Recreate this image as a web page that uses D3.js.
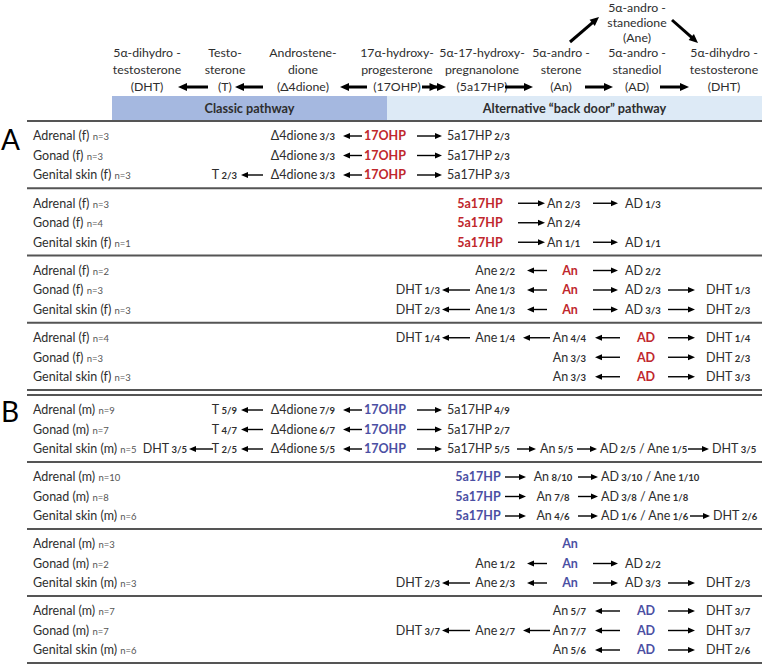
<!DOCTYPE html>
<html><head><meta charset="utf-8">
<script src="https://cdn.jsdelivr.net/npm/d3@7"></script>
<style>
body{margin:0;background:#fff}
svg{display:block}
text{font-family:Lato,"Open Sans",sans-serif}
</style>
</head><body>
<svg id="chart" width="762" height="665"></svg>
<script>
// ---------------- DATA ----------------
const headerCompounds = [
  ["5α-dihydro -", "testosterone", "(DHT)"],
  ["Testo-", "sterone", "(T)"],
  ["Androstene-", "dione", "(Δ4dione)"],
  ["17α-hydroxy-", "progesterone", "(17OHP)"],
  ["5α-17-hydroxy-", "pregnanolone", "(5a17HP)"],
  ["5α-andro -", "sterone", "(An)"],
  ["5α-andro -", "stanediol", "(AD)"],
  ["5α-dihydro -", "testosterone", "(DHT)"],
  ["5α-andro -", "stanedione", "(Ane)"]
];
const pathwayNames = ["Classic pathway", "Alternative \u201Cback door\u201D pathway"];
const panelLetters = ["A", "B"];
const panelSex = ["f", "m"];
const tissues = ["Adrenal", "Gonad", "Genital skin"];
const substrates = ["17OHP", "5a17HP", "An", "AD"];
const sampleSizes = [
  [3, 3, 3], [3, 4, 1], [2, 3, 3], [4, 3, 3],
  [9, 7, 5], [10, 8, 6], [3, 2, 3], [7, 7, 6]
];
// products per block, per tissue row: [step from substrate, name, fraction, (name2, fraction2)]
const products = [
  [ [[-1,"Δ4dione","3/3"],[1,"5a17HP","2/3"]],
    [[-1,"Δ4dione","3/3"],[1,"5a17HP","2/3"]],
    [[-2,"T","2/3"],[-1,"Δ4dione","3/3"],[1,"5a17HP","3/3"]] ],
  [ [[1,"An","2/3"],[2,"AD","1/3"]],
    [[1,"An","2/4"]],
    [[1,"An","1/1"],[2,"AD","1/1"]] ],
  [ [[-1,"Ane","2/2"],[1,"AD","2/2"]],
    [[-2,"DHT","1/3"],[-1,"Ane","1/3"],[1,"AD","2/3"],[2,"DHT","1/3"]],
    [[-2,"DHT","2/3"],[-1,"Ane","1/3"],[1,"AD","3/3"],[2,"DHT","2/3"]] ],
  [ [[-3,"DHT","1/4"],[-2,"Ane","1/4"],[-1,"An","4/4"],[1,"DHT","1/4"]],
    [[-1,"An","3/3"],[1,"DHT","2/3"]],
    [[-1,"An","3/3"],[1,"DHT","3/3"]] ],
  [ [[-2,"T","5/9"],[-1,"Δ4dione","7/9"],[1,"5a17HP","4/9"]],
    [[-2,"T","4/7"],[-1,"Δ4dione","6/7"],[1,"5a17HP","2/7"]],
    [[-3,"DHT","3/5"],[-2,"T","2/5"],[-1,"Δ4dione","5/5"],[1,"5a17HP","5/5"],[2,"An","5/5"],[3,"AD","2/5","Ane","1/5"],[4,"DHT","3/5"]] ],
  [ [[1,"An","8/10"],[2,"AD","3/10","Ane","1/10"]],
    [[1,"An","7/8"],[2,"AD","3/8","Ane","1/8"]],
    [[1,"An","4/6"],[2,"AD","1/6","Ane","1/6"],[3,"DHT","2/6"]] ],
  [ [],
    [[-1,"Ane","1/2"],[1,"AD","2/2"]],
    [[-2,"DHT","2/3"],[-1,"Ane","2/3"],[1,"AD","3/3"],[2,"DHT","2/3"]] ],
  [ [[-1,"An","5/7"],[1,"DHT","3/7"]],
    [[-3,"DHT","3/7"],[-2,"Ane","2/7"],[-1,"An","7/7"],[1,"DHT","3/7"]],
    [[-1,"An","5/6"],[1,"DHT","2/6"]] ]
];
const blockSubstrate = [0, 1, 2, 3, 0, 1, 2, 3];

// ---------------- LAYOUT (not data) ----------------
const W = 762, H = 665;
const RED = "#c0272d", BLUE = "#4b4fa3", TXT = "#2e2e2e";
const FS = 12.5, FSF = 9.5;
const x = d3.scaleLinear().domain([0, W]).range([0, W]);
const yA = d3.scaleLinear().domain([0, 4]).range([121, 390]);
const yB = d3.scaleLinear().domain([0, 4]).range([395, 663]);
const rowY = d3.scaleLinear().domain([0, 2]).range([15, 54]);

const L17 = {sub: 385, steps: {
  "-3": {x: 187, a: "end", arr: [213, 189]},
  "-2": {x: 237, a: "end", arr: [263, 241]},
  "-1": {x: 335, a: "end", arr: [362, 343]},
  "1": {x: 447, a: "start", arr: [417, 442]},
  "2": {x: 540, a: "start", arr: [517, 536]},
  "3": {x: 600, a: "start", arr: [577, 597]},
  "4": {x: 712, a: "start", arr: [688, 709]}}};
const L5aA = {sub: 480, steps: {
  "1": {x: 547, a: "start", arr: [518, 545]},
  "2": {x: 625, a: "start", arr: [593, 618]}}};
const L5aB = {sub: 478, steps: {
  "1": {x: 553, a: "middle", arr: [505, 526]},
  "2": {x: 601, a: "start", arr: [578, 598]},
  "3": {x: 713, a: "start", arr: [690, 710]}}};
const LAn = {sub: 570, steps: {
  "-2": {x: 440, a: "end", arr: [470, 442]},
  "-1": {x: 515, a: "end", arr: [547, 527]},
  "1": {x: 625, a: "start", arr: [593, 618]},
  "2": {x: 706, a: "start", arr: [668, 695]}}};
const LAD = {sub: 646, steps: {
  "-3": {x: 440, a: "end", arr: [470, 442]},
  "-2": {x: 515, a: "end", arr: [550, 523]},
  "-1": {x: 586, a: "end", arr: [620, 595]},
  "1": {x: 706, a: "start", arr: [668, 695]}}};
const blockLayouts = [L17, L5aA, LAn, LAD, L17, L5aB, LAn, LAD];

const headerX = [147, 225, 303, 397, 482, 561, 637, 724, 637];
const headerLineY = [53, 70, 87];
const aneLineY = [8, 23, 38];

const svg = d3.select("#chart");

function arrow(g, x1, y1, x2, y2, sw, hl, hw, midHead) {
  const len = Math.hypot(x2 - x1, y2 - y1);
  g.append("line").attr("x1", x1).attr("y1", y1)
    .attr("x2", x2 - (x2 - x1) / len * hl * 0.6)
    .attr("y2", y2 - (y2 - y1) / len * hl * 0.6)
    .attr("stroke", "#000").attr("stroke-width", sw);
  const heads = midHead ? [[x2, y2], [(x1 + x2) / 2 + hl / 2 * Math.sign(x2 - x1), y2]] : [[x2, y2]];
  const ang = Math.atan2(y2 - y1, x2 - x1);
  heads.forEach(([hx, hy]) => {
    const bx = hx - Math.cos(ang) * hl, by = hy - Math.sin(ang) * hl;
    const px = -Math.sin(ang) * hw / 2, py = Math.cos(ang) * hw / 2;
    g.append("path").attr("d", `M${hx},${hy}L${bx + px},${by + py}L${bx - px},${by - py}Z`).attr("fill", "#000");
  });
}

// ---------------- HEADER ----------------
const hdr = svg.append("g");
headerCompounds.forEach((lines, i) => {
  const ys = i === 8 ? aneLineY : headerLineY;
  lines.forEach((t, j) => {
    hdr.append("text").attr("x", x(headerX[i])).attr("y", ys[j]).attr("dy", "0.35em")
      .attr("text-anchor", "middle").attr("font-size", 12.3).attr("fill", TXT).text(t);
  });
});
const hy = 87;
arrow(hdr, 208, hy, 178, hy, 3, 9, 8);
arrow(hdr, 263, hy, 235, hy, 3, 9, 8);
arrow(hdr, 367, hy, 340, hy, 3, 9, 8);
arrow(hdr, 422, hy, 446, hy, 3, 9, 8, true);
arrow(hdr, 505, hy, 533, hy, 3, 9, 8);
arrow(hdr, 585, hy, 613, hy, 3, 9, 8);
arrow(hdr, 660, hy, 689, hy, 3, 9, 8);
arrow(hdr, 570, 42, 599, 17, 3, 9, 8);
arrow(hdr, 672, 20, 698, 43, 3, 9, 8);

// pathway bars
const bars = [[112, 387], [387, W]];
const barFill = ["#a5b8e0", "#ddeaf6"];
bars.forEach((b, i) => {
  hdr.append("rect").attr("x", x(b[0])).attr("y", 96).attr("width", x(b[1]) - x(b[0])).attr("height", 25).attr("fill", barFill[i]);
  hdr.append("text").attr("x", x((b[0] + b[1]) / 2)).attr("y", 109).attr("dy", "0.35em")
    .attr("text-anchor", "middle").attr("font-size", 12.7).attr("font-weight", "bold").attr("fill", TXT)
    .text(pathwayNames[i]);
});

// ---------------- SEPARATOR LINES ----------------
const lineYs = [];
for (let i = 0; i <= 4; i++) lineYs.push(yA(i));
for (let i = 0; i <= 4; i++) lineYs.push(yB(i));
svg.append("g").selectAll("line").data(lineYs).join("line")
  .attr("x1", 27).attr("x2", W).attr("y1", d => d).attr("y2", d => d)
  .attr("stroke", "#555").attr("stroke-width", 1.8);

// panel letters
panelLetters.forEach((p, i) => {
  svg.append("text").attr("x", 1).attr("y", i === 0 ? 150 : 422)
    .attr("font-family", "Liberation Sans, Arial, sans-serif").attr("font-size", 28).attr("fill", "#000").text(p);
});

// ---------------- ROWS ----------------
function addToken(g, xpos, y, anchor, name, frac, name2, frac2, color, bold) {
  const t = g.append("text").attr("x", x(xpos)).attr("y", y).attr("dy", "0.35em")
    .attr("text-anchor", anchor).attr("font-size", FS).attr("fill", color || TXT);
  if (bold) t.attr("font-weight", "bold");
  t.append("tspan").text(name);
  if (frac) t.append("tspan").attr("font-size", FSF).attr("font-weight", "bold").text(" " + frac);
  if (name2) {
    t.append("tspan").text(" / " + name2);
    t.append("tspan").attr("font-size", FSF).attr("font-weight", "bold").text(" " + frac2);
  }
}

products.forEach((block, bi) => {
  const top = bi < 4 ? yA(bi) : yB(bi - 4);
  const lay = blockLayouts[bi];
  const subColor = bi < 4 ? RED : BLUE;
  const g = svg.append("g");
  block.forEach((row, ri) => {
    const y = top + rowY(ri);
    const lab = g.append("text").attr("x", 33).attr("y", y).attr("dy", "0.35em").attr("font-size", FS).attr("fill", TXT);
    lab.append("tspan").text(`${tissues[ri]} (${panelSex[bi < 4 ? 0 : 1]}) `);
    lab.append("tspan").attr("font-size", FSF).attr("fill", "#555").text(`n=${sampleSizes[bi][ri]}`);
    addToken(g, lay.sub, y, "middle", substrates[blockSubstrate[bi]], null, null, null, subColor, true);
    row.forEach(p => {
      const s = lay.steps[String(p[0])];
      addToken(g, s.x, y, s.a, p[1], p[2], p[3], p[4]);
      arrow(g, s.arr[0], y, s.arr[1], y, 1.4, 7, 6);
    });
  });
});
</script>
</body></html>
